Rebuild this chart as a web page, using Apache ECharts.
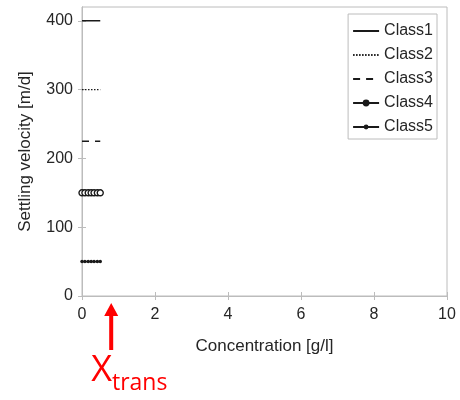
<!DOCTYPE html>
<html><head><meta charset="utf-8">
<script src="https://cdn.jsdelivr.net/npm/echarts@6/dist/echarts.min.js"></script>
<style>html,body{margin:0;padding:0;background:#fff}#c{width:460px;height:400px}</style>
</head><body><div id="c"></div>
<script>
const seriesNames = ['Class1', 'Class2', 'Class3', 'Class4', 'Class5'];
const xLine = [0, 0.5];
const xMarked = [0, 0.08, 0.17, 0.25, 0.33, 0.42, 0.5];
const class1Y = [400, 400];
const class2Y = [300, 300];
const class3Y = [225, 225];
const class4Y = [150, 150, 150, 150, 150, 150, 150];
const class5Y = [50, 50, 50, 50, 50, 50, 50];
const xTicks = [0, 2, 4, 6, 8, 10];
const yTicks = [0, 100, 200, 300, 400];
const xTrans = 0.8;

const pair = (xs, ys) => xs.map((x, i) => [x, ys[i]]);
const ink = '#1a1a1a';
const axisGrey = '#bcbcbc';
const txt = '#262626';
const font = 'Liberation Sans, Arial, sans-serif';
const hidden = {color: 'rgba(0,0,0,0)', borderColor: 'rgba(0,0,0,0)', borderWidth: 0};

const chart = echarts.init(document.getElementById('c'), null, {renderer: 'canvas'});
const baseX = {
  type: 'value', min: 0, max: 10, interval: 2,
  axisLine: {show: true, lineStyle: {color: axisGrey, width: 1}},
  axisTick: {show: true, inside: true, length: 4, lineStyle: {color: axisGrey}},
  splitLine: {show: false}
};
const baseY = {
  type: 'value', min: 0, max: 420, interval: 100,
  axisLine: {show: true, lineStyle: {color: axisGrey, width: 1}},
  axisTick: {show: true, inside: true, length: 4, lineStyle: {color: axisGrey}, customValues: yTicks},
  splitLine: {show: false}
};
chart.setOption({
  animation: false,
  grid: {left: 82, right: 13, top: 7, bottom: 104, show: true, borderColor: axisGrey, borderWidth: 1},
  xAxis: [
    Object.assign({}, baseX, {
      position: 'bottom',
      name: 'Concentration [g/l]', nameLocation: 'middle', nameGap: 42,
      nameTextStyle: {fontSize: 17, color: txt, fontFamily: font},
      axisLabel: {fontSize: 16, color: txt, fontFamily: font, margin: 11, customValues: xTicks}
    }),
    Object.assign({}, baseX, {position: 'top', axisLabel: {show: false}})
  ],
  yAxis: [
    Object.assign({}, baseY, {
      position: 'left',
      name: 'Settling velocity [m/d]', nameLocation: 'middle', nameGap: 48,
      nameTextStyle: {fontSize: 17, color: txt, fontFamily: font},
      axisLabel: {fontSize: 16, color: txt, fontFamily: font, margin: 9, customValues: yTicks}
    }),
    Object.assign({}, baseY, {position: 'right', axisLabel: {show: false}})
  ],
  legend: {
    orient: 'vertical', right: 23, top: 14,
    data: [
      {name: seriesNames[0], itemStyle: hidden},
      {name: seriesNames[1], itemStyle: hidden},
      {name: seriesNames[2], itemStyle: hidden},
      {name: seriesNames[3], itemStyle: {color: ink}},
      {name: seriesNames[4], itemStyle: {color: ink}}
    ],
    backgroundColor: '#fff', borderColor: axisGrey, borderWidth: 1,
    padding: [9, 4, 4, 4], itemGap: 8, itemWidth: 26, itemHeight: 6,
    textStyle: {fontSize: 16, color: txt, fontFamily: font, lineHeight: 16}
  },
  series: [
    {name: 'Class1', type: 'line', data: pair(xLine, class1Y), symbol: 'circle', showSymbol: false,
     lineStyle: {color: ink, width: 1.6, type: 'solid'}, itemStyle: {color: ink}},
    {name: 'Class2', type: 'line', data: pair(xLine, class2Y), symbol: 'circle', showSymbol: false,
     lineStyle: {color: ink, width: 1.2, type: [1.5, 1.5]}, itemStyle: {color: ink}},
    {name: 'Class3', type: 'line', data: pair(xLine, class3Y), symbol: 'circle', showSymbol: false,
     lineStyle: {color: ink, width: 1.6, type: [7, 6]}, itemStyle: {color: ink}},
    {name: 'Class4', type: 'line', data: pair(xMarked, class4Y), symbol: 'circle', symbolSize: 6,
     lineStyle: {color: ink, width: 1.4}, itemStyle: {color: '#fff', borderColor: ink, borderWidth: 1.4}},
    {name: 'Class5', type: 'line', data: pair(xMarked, class5Y), symbol: 'circle', symbolSize: 3.5,
     lineStyle: {color: ink, width: 1.4}, itemStyle: {color: ink}}
  ]
});

const px = chart.convertToPixel({xAxisIndex: 0}, xTrans);
chart.setOption({
  graphic: [
    {type: 'polygon', shape: {points: [[px, 303], [px - 7, 316], [px - 2, 316], [px - 2, 350], [px + 2, 350], [px + 2, 316], [px + 7, 316]]},
     style: {fill: '#ff0000'}},
    {type: 'text', x: px - 20, y: 353,
     style: {text: '{a|X}{b|trans}', rich: {
       a: {fontSize: 36, fill: '#ff0000', fontFamily: 'Open Sans, Liberation Sans, sans-serif', verticalAlign: 'bottom', lineHeight: 36},
       b: {fontSize: 23, fill: '#ff0000', fontFamily: 'Open Sans, Liberation Sans, sans-serif', padding: [25, 0, 0, 0], lineHeight: 23}
     }}}
  ]
});
</script></body></html>
